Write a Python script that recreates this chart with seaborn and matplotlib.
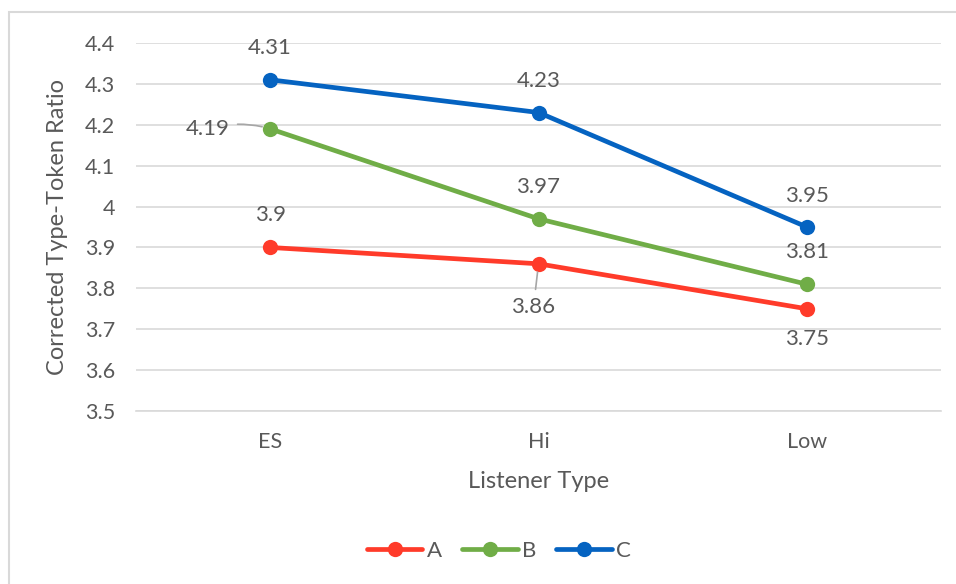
import matplotlib
matplotlib.use("Agg")
import matplotlib.pyplot as plt
import seaborn as sns
import pandas as pd
from matplotlib.patches import Rectangle

# Data
listener_types = ["ES", "Hi", "Low"]
series_a = [3.90, 3.86, 3.75]
series_b = [4.19, 3.97, 3.81]
series_c = [4.31, 4.23, 3.95]
series_names = ["A", "B", "C"]
y_ticks = [3.5, 3.6, 3.7, 3.8, 3.9, 4.0, 4.1, 4.2, 4.3, 4.4]
y_tick_labels = ["3.5", "3.6", "3.7", "3.8", "3.9", "4", "4.1", "4.2", "4.3", "4.4"]
value_labels = {
    "A": ["3.9", "3.86", "3.75"],
    "B": ["4.19", "3.97", "3.81"],
    "C": ["4.31", "4.23", "3.95"],
}

colors = {"A": "#FF3B2A", "B": "#70AD47", "C": "#0563C1"}
text_color = "#595959"

sns.set_theme(style="white")
plt.rcParams["font.family"] = ["Lato", "DejaVu Sans"]

rows = []
for name, vals in zip(series_names, [series_a, series_b, series_c]):
    for i, (cat, v) in enumerate(zip(listener_types, vals)):
        rows.append({"Listener Type": cat, "pos": i, "value": v, "series": name})
df = pd.DataFrame(rows)

fig = plt.figure(figsize=(9.56, 5.84), dpi=100)
ax = fig.add_axes([0.1423, 0.2962, 0.8420, 0.6302])

sns.lineplot(data=df, x="pos", y="value", hue="series", palette=colors,
             marker="o", markersize=11, markeredgewidth=0, linewidth=3.4,
             ax=ax, legend=False)

ax.set_xlim(-0.5, 2.5)
ax.set_ylim(3.5, 4.4)
ax.set_yticks(y_ticks)
ax.set_yticklabels(y_tick_labels)
ax.set_xticks(range(len(listener_types)))
ax.set_xticklabels(listener_types)
ax.yaxis.grid(True, color="#D9D9D9", linewidth=1.2)
ax.set_axisbelow(True)
for s in ["top", "right", "left"]:
    ax.spines[s].set_visible(False)
ax.spines["bottom"].set_color("#D9D9D9")
ax.spines["bottom"].set_linewidth(1.2)
ax.tick_params(axis="both", length=0, labelsize=15.5, colors=text_color)
ax.tick_params(axis="x", pad=15)
ax.tick_params(axis="y", pad=15)
ax.set_xlabel("Listener Type", fontsize=17, color=text_color, labelpad=14)
ax.set_ylabel("Corrected Type-Token Ratio", fontsize=17, color=text_color, labelpad=12)

# data labels: offsets in pixels
offsets = {
    "A": [(0, 32), (-5, -43), (0, -30)],
    "B": [(-62, 0), (0, 32), (0, 32)],
    "C": [(0, 32), (0, 32), (0, 31)],
}
leaders = {("B", 0): "arc3,rad=-0.15", ("A", 1): "arc3,rad=0"}
for name, vals in zip(series_names, [series_a, series_b, series_c]):
    for i, v in enumerate(vals):
        kw = {}
        if (name, i) in leaders:
            kw["arrowprops"] = dict(arrowstyle="-", color="#A6A6A6", lw=1.2,
                                    shrinkA=3, shrinkB=6,
                                    connectionstyle=leaders[(name, i)])
        ax.annotate(value_labels[name][i], xy=(i, v), xytext=offsets[name][i],
                    textcoords="offset pixels", ha="center", va="center",
                    fontsize=16, color=text_color, **kw)

# legend
handles = [plt.Line2D([], [], color=colors[n], lw=3.4, marker="o",
                      markersize=11, markeredgewidth=0) for n in series_names]
fig.legend(handles, series_names, loc="center", bbox_to_anchor=(0.522, 1 - 551 / 584),
           ncol=3, frameon=False, fontsize=16, labelcolor=text_color,
           handlelength=2.5, handletextpad=0.2, columnspacing=0.9)

# outer chart border
fig.patches.append(Rectangle((9 / 956, -0.1), 1.2, 1 - 12 / 584 + 0.1,
                             transform=fig.transFigure, fill=False,
                             edgecolor="#D9D9D9", linewidth=1.5))

fig.savefig("out.png", dpi=100)
